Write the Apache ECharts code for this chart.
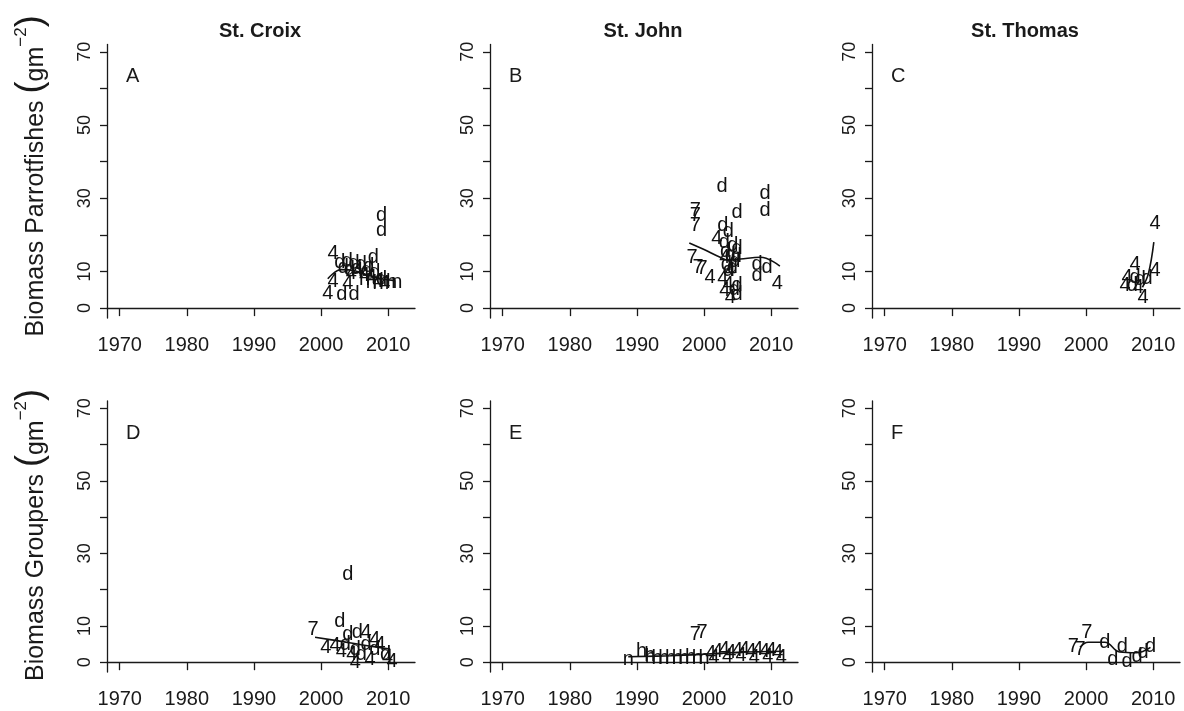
<!DOCTYPE html>
<html><head><meta charset="utf-8">
<script src="https://cdn.jsdelivr.net/npm/echarts@6/dist/echarts.min.js"></script>
<style>html,body{margin:0;padding:0;background:#fff}#c{width:1184px;height:711px}</style>
</head><body><div id="c"></div>
<script>
// ---- tick labels / categories ----
const xTicks = [1970, 1980, 1990, 2000, 2010];
const yTicks = [0, 10, 20, 30, 40, 50, 60, 70];
const yTickLabels = [0, 10, 30, 50, 70];
const islands = ['St. Croix', 'St. John', 'St. Thomas'];
const panelLetters = ['A', 'B', 'C', 'D', 'E', 'F'];
const rowTitles = ['Biomass Parrotfishes', 'Biomass Groupers'];

// ---- marks: [year, biomass, plotting character] ----
const marksA = [
  [2001.8,15.0,'4'],[2002.8,12.5,'d'],[2003.9,12.8,'d'],[2004.9,12.3,'d'],[2006.0,12.0,'d'],[2007.1,11.4,'d'],[2007.8,13.7,'d'],
  [2009.0,25.4,'d'],[2009.0,21.1,'d'],
  [2001.8,7.4,'4'],[2004.0,6.8,'4'],[2001.0,4.1,'4'],[2003.1,3.6,'d'],[2004.9,3.8,'d'],
  [2004.5,9.5,'4'],[2005.5,10.2,'4'],[2006.5,9.0,'4'],[2007.5,8.5,'4'],[2008.5,7.2,'4'],[2009.5,6.8,'4'],
  [2005.3,10.8,'d'],[2006.8,10.3,'d'],[2008.0,9.8,'d'],[2009.0,7.8,'d'],[2003.3,11.0,'d'],[2004.2,10.6,'d'],
  [2006.5,7.8,'h'],[2007.5,7.0,'h'],[2008.5,6.8,'h'],[2009.5,7.3,'h'],[2010.5,7.0,'h'],[2011.3,7.0,'n']
];
const fitA = [[2001.0,8.0],[2003.0,10.5],[2005.0,10.2],[2007.0,9.0],[2009.0,8.0],[2011.0,7.5]];

const marksB = [
  [2002.7,33.1,'d'],[2009.1,31.4,'d'],[2009.1,26.8,'d'],[2004.9,26.0,'d'],
  [1998.7,26.8,'7'],[1998.7,25.4,'7'],[1998.7,22.7,'7'],
  [2002.8,22.7,'d'],[2001.9,19.1,'4'],
  [2003.6,20.8,'d'],[2004.3,17.2,'d'],[2003.9,14.5,'d'],[2004.6,12.6,'d'],[2003.6,10.4,'d'],[2004.9,16.4,'d'],
  [2003.0,18.0,'d'],[2003.2,15.5,'d'],[2004.8,14.0,'d'],[2003.3,12.0,'d'],[2004.2,11.0,'d'],
  [2003.1,13.7,'4'],[2003.9,10.4,'4'],
  [1998.2,13.9,'7'],[1999.1,11.2,'7'],[1999.7,10.9,'7'],
  [2000.9,8.5,'4'],[2002.8,8.2,'4'],[2003.1,4.9,'4'],[2003.9,3.0,'4'],[2003.6,6.5,'4'],
  [2004.9,6.3,'d'],[2004.9,3.6,'d'],[2004.5,5.0,'d'],
  [2007.9,11.8,'d'],[2007.9,9.0,'d'],[2009.4,11.2,'d'],[2010.9,6.8,'4']
];
const fitB = [[1997.8,17.8],[2000.0,16.0],[2002.4,13.9],[2003.6,13.1],[2005.4,13.4],[2008.4,13.9],[2011.3,11.5]];

const marksC = [
  [2010.3,23.2,'4'],[2007.3,11.8,'4'],[2006.1,8.5,'4'],[2005.8,6.3,'4'],[2008.5,3.0,'4'],[2010.3,10.4,'4'],[2007.8,5.7,'4'],
  [2006.9,6.3,'d'],[2008.1,7.7,'d'],[2009.1,8.2,'d'],[2007.3,8.5,'d']
];
const fitC = [[2008.4,5.7],[2009.3,9.5],[2010.1,18.0]];

const marksD = [
  [2004.0,24.2,'d'],[2002.8,11.3,'d'],[1998.8,9.1,'7'],
  [2005.4,8.3,'d'],[2004.0,7.7,'d'],[2003.6,5.0,'d'],[2005.1,3.6,'d'],[2006.7,5.0,'d'],[2008.0,3.6,'d'],[2009.6,2.2,'d'],
  [2006.7,8.3,'4'],[2000.7,4.1,'4'],[2002.1,4.7,'4'],[2004.6,2.2,'4'],[2005.1,0.0,'4'],[2007.3,0.8,'4'],
  [2009.9,1.4,'4'],[2010.6,0.3,'4'],[2008.0,6.3,'4'],[2008.8,5.0,'4'],[2003.0,3.0,'4'],[2006.0,2.0,'d']
];
const fitD = [[1999.1,6.9],[2002.8,5.8],[2006.0,4.8],[2010.3,3.6]];

const marksE = [
  [1998.7,7.7,'7'],[1999.7,8.3,'7'],[1988.7,0.8,'n'],[1990.7,3.0,'h'],[1991.9,1.9,'h'],
  [1992.0,1.2,'h'],[1993.0,0.9,'h'],[1994.0,1.0,'h'],[1995.0,1.1,'h'],[1996.0,0.9,'h'],
  [1997.0,1.0,'h'],[1998.0,1.2,'h'],[1999.0,1.0,'h'],[2000.0,1.1,'h'],
  [2001.0,2.5,'4'],[2002.0,3.0,'4'],[2003.0,3.5,'4'],[2004.0,2.8,'4'],[2005.0,3.2,'4'],[2006.0,3.6,'4'],
  [2007.0,2.9,'4'],[2008.0,3.4,'4'],[2009.0,3.0,'4'],[2010.0,3.3,'4'],[2011.0,2.7,'4'],
  [2001.5,1.2,'4'],[2003.5,1.5,'4'],[2005.5,1.8,'4'],[2007.5,1.4,'4'],[2009.5,1.6,'4'],[2011.5,1.3,'4']
];
const fitE = [[1988.7,1.5],[1995.0,1.8],[2000.0,2.2],[2005.0,2.7],[2011.8,3.0]];

const marksF = [
  [2000.1,8.3,'7'],[1998.1,4.4,'7'],[1999.1,3.6,'7'],
  [2002.8,5.5,'d'],[2005.4,4.4,'d'],[2004.0,0.8,'d'],[2006.1,0.3,'d'],[2007.6,1.7,'d'],[2008.5,2.8,'d'],[2009.6,4.4,'d']
];
const fitF = [[1999.1,4.1],[2000.3,5.5],[2002.8,5.5],[2005.0,2.8],[2007.5,2.6],[2009.6,4.1]];

const allMarks = [marksA, marksB, marksC, marksD, marksE, marksF];
const allFits = [fitA, fitB, fitC, fitD, fitE, fitF];

// ---- layout ----
const FONT = '"Liberation Sans", Arial, Helvetica, sans-serif';
const lefts = [107, 490, 872];
const W = 308;
const tops = [44.5, 401];
const H = [273.5, 271];

const grids = [], xAxes = [], yAxes = [], series = [], graphics = [];
for (let i = 0; i < 6; i++) {
  const r = Math.floor(i / 3), c = i % 3;
  grids.push({ left: lefts[c], top: tops[r], width: W, height: H[r] });
  xAxes.push({
    type: 'value', gridIndex: i, min: 1968.1, max: 2014,
    axisLine: { show: true, lineStyle: { color: '#1a1a1a', width: 1.3 } },
    axisTick: { show: true, customValues: xTicks, length: 8, lineStyle: { color: '#1a1a1a', width: 1.3 } },
    axisLabel: { customValues: xTicks, margin: 17, color: '#1a1a1a', fontSize: 20, fontFamily: FONT,
                 formatter: function (v) { return String(Math.round(v)); } },
    splitLine: { show: false }
  });
  yAxes.push({
    type: 'value', gridIndex: i, min: -2.7, max: 72,
    axisLine: { show: true, lineStyle: { color: '#1a1a1a', width: 1.3 } },
    axisTick: { show: true, customValues: yTicks, length: 7, lineStyle: { color: '#1a1a1a', width: 1.3 } },
    axisLabel: { customValues: yTickLabels, rotate: 90, margin: 13, color: '#1a1a1a', fontSize: 18, fontFamily: FONT,
                 formatter: function (v) { return String(Math.round(v)); } },
    splitLine: { show: false }
  });
  series.push({
    type: 'line', xAxisIndex: i, yAxisIndex: i, data: allFits[i], smooth: 0.4,
    symbol: 'none', lineStyle: { color: '#111', width: 1.6 }, z: 3, silent: true, animation: false
  });
  series.push({
    type: 'custom', xAxisIndex: i, yAxisIndex: i, data: allMarks[i], animation: false, z: 4,
    renderItem: function (params, api) {
      const p = api.coord([api.value(0), api.value(1)]);
      return {
        type: 'text', x: p[0], y: p[1],
        style: { text: String(allMarks[i][params.dataIndex][2]), fill: '#111',
                 font: '20px ' + FONT, align: 'center', verticalAlign: 'middle' }
      };
    }
  });
  graphics.push({
    type: 'text', left: lefts[c] + 19, top: tops[r] + 22,
    style: { text: panelLetters[i], font: '20px ' + FONT, fill: '#1a1a1a' }
  });
}
for (let c = 0; c < 3; c++) {
  graphics.push({
    type: 'text', x: lefts[c] + W / 2 - 1, y: 31,
    style: { text: islands[c], font: 'bold 20px ' + FONT, fill: '#1a1a1a', align: 'center', verticalAlign: 'middle' }
  });
}
const rowCenters = [176, 535];
for (let r = 0; r < 2; r++) {
  graphics.push({
    type: 'text', x: 31, y: rowCenters[r], rotation: Math.PI / 2,
    style: {
      text: '{t|' + rowTitles[r] + ' }{p|(}{t|gm}{s|−2}{p|)}',
      align: 'center', verticalAlign: 'middle', fill: '#1a1a1a',
      rich: {
        t: { font: '25px ' + FONT, fill: '#1a1a1a', verticalAlign: 'bottom' },
        s: { font: '17px ' + FONT, fill: '#1a1a1a', verticalAlign: 'top' },
        p: { font: '36px ' + FONT, fill: '#1a1a1a', verticalAlign: 'bottom' }
      }
    }
  });
}

const chart = echarts.init(document.getElementById('c'), null, { renderer: 'canvas' });
chart.setOption({
  backgroundColor: '#ffffff', animation: false,
  grid: grids, xAxis: xAxes, yAxis: yAxes, series: series, graphic: graphics
});
</script></body></html>
